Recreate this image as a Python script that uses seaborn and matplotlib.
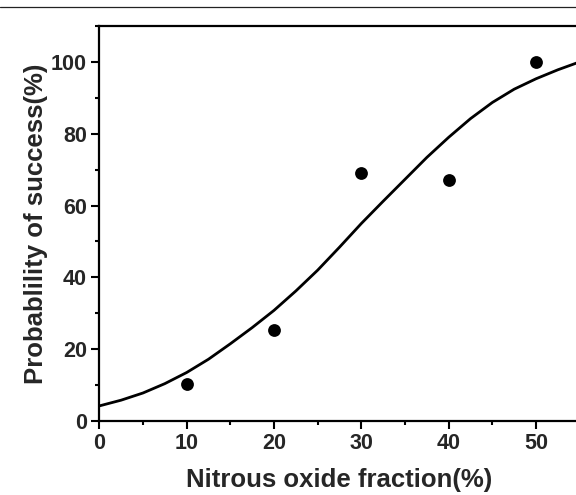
import matplotlib
matplotlib.use('Agg')
import matplotlib.pyplot as plt
from matplotlib.lines import Line2D
from matplotlib.ticker import MultipleLocator
import seaborn as sns
import pandas as pd

# Measured points
fraction = [10, 20, 30, 40, 50]
success = [10.2, 25.3, 69.2, 67.2, 100]

# Fitted curve
curve_x = [0, 2.5, 5, 7.5, 10, 12.5, 15, 17.5, 20, 22.5, 25, 27.5,
           30, 32.5, 35, 37.5, 40, 42.5, 45, 47.5, 50, 52.5, 55]
curve_y = [4.2, 5.8, 7.8, 10.4, 13.5, 17.2, 21.5, 26.0, 30.8, 36.2, 42.0, 48.4,
           55.0, 61.2, 67.3, 73.4, 79.0, 84.2, 88.7, 92.4, 95.3, 97.8, 100.0]

sns.set_style('ticks')
plt.rcParams['font.family'] = ['Liberation Sans', 'DejaVu Sans']
plt.rcParams['font.weight'] = 'bold'

fig = plt.figure(figsize=(5.76, 4.95), dpi=100)
ax = fig.add_axes([0.1724, 0.1495, 0.834, 0.798])

points = pd.DataFrame({'fraction': fraction, 'success': success})
curve = pd.DataFrame({'x': curve_x, 'y': curve_y})

sns.lineplot(data=curve, x='x', y='y', ax=ax, color='black', linewidth=2.0)
sns.scatterplot(data=points, x='fraction', y='success', ax=ax, color='black',
                s=85, edgecolor='black', linewidth=0, zorder=3)

ax.set_xlim(0, 55)
ax.set_ylim(0, 110)
ax.xaxis.set_major_locator(MultipleLocator(10))
ax.xaxis.set_minor_locator(MultipleLocator(5))
ax.yaxis.set_major_locator(MultipleLocator(20))
ax.yaxis.set_minor_locator(MultipleLocator(10))
ax.set_yticks([0, 20, 40, 60, 80, 100])

ax.tick_params(which='major', direction='out', length=6, width=1.5,
               labelsize=15.5, pad=3, color='black')
ax.tick_params(which='minor', direction='out', length=3, width=1.5, color='black')
for lbl in ax.get_xticklabels() + ax.get_yticklabels():
    lbl.set_fontweight('bold')

for sp in ax.spines.values():
    sp.set_linewidth(1.6)
    sp.set_color('black')
    sp.set_visible(True)

ax.set_xlabel('Nitrous oxide fraction(%)', fontsize=18.5, fontweight='bold', labelpad=10)
ax.set_ylabel('Probablility of success(%)', fontsize=18.5, fontweight='bold', labelpad=2)

# thin page border line at the top
fig.add_artist(Line2D([0, 1], [0.986, 0.986], transform=fig.transFigure,
                      color='#222222', linewidth=0.9))

fig.savefig('out.png', dpi=100)
